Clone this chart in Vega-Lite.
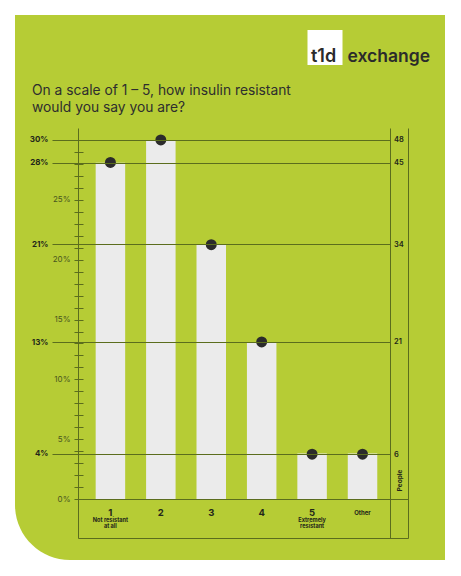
{
  "$schema": "https://vega.github.io/schema/vega-lite/v6.json",
  "width": 430,
  "height": 545,
  "autosize": {"type": "none"},
  "padding": {"left": 15, "top": 15, "right": 16, "bottom": 16},
  "background": "#ffffff",
  "title": {
    "text": ["On a scale of 1 – 5, how insulin resistant", "would you say you are?"],
    "anchor": "start",
    "frame": "group",
    "orient": "top",
    "baseline": "top",
    "offset": 0,
    "dx": 17,
    "dy": 100,
    "font": "Inter",
    "fontSize": 13.8,
    "fontWeight": 400,
    "color": "#2e2e2e",
    "lineHeight": 17.7
  },
  "data": {
    "values": [
      {"answer": "1", "pct": 28.1, "people": 45},
      {"answer": "2", "pct": 30.0, "people": 48},
      {"answer": "3", "pct": 21.3, "people": 34},
      {"answer": "4", "pct": 13.1, "people": 21},
      {"answer": "5", "pct": 3.8, "people": 6},
      {"answer": "Other", "pct": 3.8, "people": 6}
    ]
  },
  "layer": [
    {
      "mark": {"type": "bar", "color": "#ebebeb"},
      "encoding": {
        "x": {
          "field": "answer", "type": "nominal", "sort": null,
          "scale": {"type": "band", "domain": ["1", "2", "3", "4", "5", "Other"], "range": [63, 393], "paddingInner": 0.415, "paddingOuter": 0.48, "align": 0.365},
          "axis": {
            "orient": "bottom", "offset": -22, "title": null, "ticks": false, "domain": true,
            "labelAngle": 0, "labelPadding": -26, "labelBaseline": "middle", "labelOverlap": false,
            "labelFont": "Inter", "labelFontWeight": 700, "labelColor": "#23261a",
            "labelFontSize": {"condition": {"test": "datum.value === 'Other'", "value": 6}, "value": 9.5}
          }
        },
        "y": {
          "field": "pct", "type": "quantitative",
          "scale": {"domain": [-3.25, 31], "range": [523, 113], "zero": false, "nice": false},
          "axis": {
            "orient": "left", "offset": -63, "title": null, "domain": true, "grid": false,
            "values": [0, 1, 2, 3, 4, 5, 6, 7, 8, 9, 10, 11, 12, 13, 14, 15, 16, 17, 18, 19, 20, 21, 22, 23, 24, 25, 26, 27, 28, 29, 30],
            "tickSize": 4, "labelPadding": 4, "labelOverlap": false,
            "labelExpr": "datum.value % 5 === 0 && datum.value < 30 ? datum.value + '%' : ''",
            "labelFont": "Inter", "labelFontSize": 8, "labelFontWeight": 400, "labelColor": "#4a571f"
          }
        },
        "y2": {"datum": 0}
      }
    },
    {
      "mark": {"type": "point", "opacity": 0},
      "encoding": {
        "x": {
          "field": "answer", "type": "nominal", "sort": null,
          "scale": {"type": "band", "domain": ["1", "2", "3", "4", "5", "Other"], "range": [63, 393], "paddingInner": 0.415, "paddingOuter": 0.48, "align": 0.365},
          "axis": {
            "orient": "bottom", "offset": -22, "title": null, "ticks": false, "domain": false,
            "labelAngle": 0, "labelPadding": -21, "labelBaseline": "top", "labelOverlap": false,
            "labelFont": "Inter", "labelFontWeight": 700, "labelFontSize": 5.6, "labelLineHeight": 6, "labelColor": "#23261a",
            "labelExpr": "datum.value === '1' ? ['Not resistant', 'at all'] : datum.value === '5' ? ['Extremely', 'resistant'] : ''"
          }
        },
        "y": {
          "field": "pct", "type": "quantitative",
          "scale": {"domain": [-3.25, 31], "range": [523, 113], "zero": false, "nice": false},
          "axis": {
            "orient": "left", "offset": -63, "title": null, "domain": false, "labels": false, "grid": false,
            "values": [0, 1, 2, 3, 4, 5, 6, 7, 8, 9, 10, 11, 12, 13, 14, 15, 16, 17, 18, 19, 20, 21, 22, 23, 24, 25, 26, 27, 28, 29, 30],
            "tickSize": -5
          }
        }
      }
    },
    {
      "mark": {"type": "point", "opacity": 0},
      "encoding": {
        "x": {
          "field": "answer", "type": "nominal", "sort": null,
          "scale": {"type": "band", "domain": ["1", "2", "3", "4", "5", "Other"], "range": [63, 393], "paddingInner": 0.415, "paddingOuter": 0.48, "align": 0.365},
          "axis": {"orient": "bottom", "offset": -61, "title": null, "ticks": false, "labels": false, "domain": true}
        },
        "y": {
          "field": "pct", "type": "quantitative",
          "scale": {"domain": [-3.25, 31], "range": [523, 113], "zero": false, "nice": false},
          "axis": {
            "orient": "left", "offset": -37, "title": null, "domain": false, "grid": false, "zindex": 1,
            "values": [30, 28.1, 21.3, 13.1, 3.8],
            "tickSize": -338, "labelPadding": 342, "labelOverlap": false,
            "labelExpr": "format(datum.value, '.0f') + '%'",
            "labelFont": "Inter", "labelFontSize": 8, "labelFontWeight": 700, "labelColor": "#23261a"
          }
        }
      }
    },
    {
      "mark": {"type": "point", "filled": true, "size": 120, "color": "#2b2b2b", "opacity": 1},
      "encoding": {
        "x": {
          "field": "answer", "type": "nominal", "sort": null,
          "scale": {"type": "band", "domain": ["1", "2", "3", "4", "5", "Other"], "range": [63, 393], "paddingInner": 0.415, "paddingOuter": 0.48, "align": 0.365},
          "axis": null
        },
        "y": {
          "field": "people", "type": "quantitative",
          "scale": {"domain": [-5.2, 49.6], "range": [523, 113], "zero": false, "nice": false},
          "axis": {
            "orient": "right", "offset": -55, "title": "People", "domain": true, "ticks": false, "grid": false,
            "values": [48, 45, 34, 21, 6], "labelPadding": 3.5, "labelOverlap": false,
            "labelFont": "Inter", "labelFontSize": 7.5, "labelFontWeight": 600, "labelColor": "#23261a",
            "titleAngle": 270, "titleX": 9, "titleY": 465, "titleAlign": "center", "titleBaseline": "middle",
            "titleFont": "Inter", "titleFontSize": 6.5, "titleFontWeight": 700, "titleColor": "#23261a"
          }
        }
      }
    },
    {
      "mark": {"type": "point", "filled": true, "opacity": 0},
      "encoding": {
        "x": {
          "field": "answer", "type": "nominal", "sort": null,
          "scale": {"type": "band", "domain": ["1", "2", "3", "4", "5", "Other"], "range": [63, 393], "paddingInner": 0.415, "paddingOuter": 0.48, "align": 0.365},
          "axis": null
        },
        "y": {
          "field": "people", "type": "quantitative",
          "scale": {"domain": [-5.2, 49.6], "range": [523, 113], "zero": false, "nice": false},
          "axis": {"orient": "right", "offset": -37, "title": null, "domain": true, "ticks": false, "labels": false, "grid": false}
        },
        "fill": {
          "datum": "exchange", "type": "nominal",
          "scale": {"range": ["#ffffff"]},
          "legend": {
            "orient": "none", "legendX": 296, "legendY": 15, "padding": 0,
            "title": "t1d", "titleOrient": "left", "titleAnchor": "middle", "titleBaseline": "top",
            "titlePadding": -29.5, "titleFont": "Inter", "titleFontSize": 18, "titleFontWeight": 600, "titleColor": "#2b2b2b",
            "symbolType": "square", "symbolSize": 1225, "symbolStrokeWidth": 0, "symbolOpacity": 1, "symbolFillColor": "#ffffff",
            "labelFont": "Inter", "labelFontSize": 17.5, "labelFontWeight": 600, "labelColor": "#2b2b2b", "labelOffset": 5, "labelBaseline": "top"
          }
        }
      }
    }
  ],
  "resolve": {"scale": {"y": "independent"}, "axis": {"x": "independent", "y": "independent"}},
  "config": {
    "view": {"stroke": null},
    "style": {"cell": {"fill": "#b6cc35", "stroke": null, "cornerRadiusBottomLeft": 55}},
    "axis": {"domainColor": "#5b6d1d", "tickColor": "#5b6d1d", "domainWidth": 1, "tickWidth": 1}
  }
}
